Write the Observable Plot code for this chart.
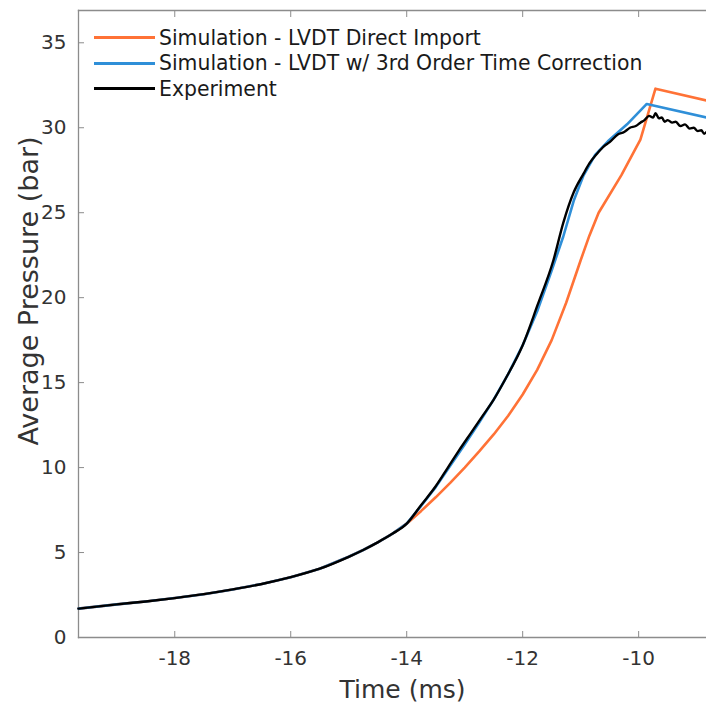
<!DOCTYPE html>
<html><head><meta charset="utf-8">
<script src="https://cdn.jsdelivr.net/npm/d3@7"></script>
<script src="https://cdn.jsdelivr.net/npm/@observablehq/plot@0.6"></script>
<style>
body{margin:0;background:#fff;}
#wrap{position:relative;width:706px;height:709px;overflow:hidden;font-family:"DejaVu Sans",Verdana,sans-serif;}
.legend{position:absolute;left:94px;top:25px;font-size:20.4px;color:#1a1a1a;}
.row{display:flex;align-items:center;height:25.5px;white-space:nowrap;}
.sw{width:61px;height:3px;margin-right:4px;}
</style></head><body><div id="wrap"></div>
<script>
// Series names / colours
const seriesNames = ["Simulation - LVDT Direct Import", "Simulation - LVDT w/ 3rd Order Time Correction", "Experiment"];
const seriesColors = ["#ff7236", "#2f8fd8", "#000000"];

// Shared early portion (time in ms, pressure in bar)
const commonT = [-19.66, -19.0, -18.5, -18.0, -17.5, -17.0, -16.5, -16.0, -15.5, -15.0, -14.75, -14.5, -14.25, -14.0];
const commonP = [1.70, 1.95, 2.12, 2.32, 2.55, 2.83, 3.15, 3.55, 4.05, 4.75, 5.15, 5.6, 6.1, 6.7];

// Simulation - LVDT Direct Import (after -14 ms)
const directT = [-13.75, -13.5, -13.25, -13.0, -12.75, -12.5, -12.25, -12.0, -11.75, -11.5, -11.25, -11.0, -10.85, -10.69, -10.3, -9.97, -9.71, -8.83];
const directP = [7.45, 8.25, 9.1, 10.0, 10.95, 11.95, 13.05, 14.3, 15.75, 17.5, 19.7, 22.2, 23.65, 25.0, 27.2, 29.3, 32.3, 31.6];

// Simulation - 3rd order time correction (after -14 ms)
const corrT = [-13.75, -13.5, -13.25, -13.0, -12.75, -12.5, -12.25, -12.0, -11.75, -11.5, -11.3, -11.12, -10.95, -10.75, -10.53, -10.2, -9.86, -8.83];
const corrP = [7.75, 8.85, 10.1, 11.35, 12.65, 14.0, 15.5, 17.2, 19.2, 21.6, 23.6, 25.7, 27.2, 28.4, 29.2, 30.2, 31.4, 30.6];

// Experiment (after -14 ms)
const expT = [-13.75, -13.5, -13.29, -13.1, -12.9, -12.7, -12.5, -12.3, -12.0, -11.74, -11.47, -11.3, -11.12, -10.95, -10.85, -10.71, -10.6, -10.5, -10.36, -10.25, -10.15, -10.05, -9.97, -9.9, -9.82, -9.75, -9.71, -9.65, -9.6, -9.55, -9.5, -9.42, -9.36, -9.28, -9.2, -9.12, -9.05, -8.98, -8.92, -8.87, -8.83];
const expP = [7.8, 8.9, 10.0, 11.0, 12.0, 13.0, 14.0, 15.2, 17.2, 19.6, 22.2, 24.4, 26.2, 27.3, 27.9, 28.5, 28.9, 29.15, 29.6, 29.75, 30.0, 30.1, 30.3, 30.45, 30.7, 30.6, 30.85, 30.55, 30.6, 30.35, 30.45, 30.3, 30.35, 30.1, 30.2, 29.95, 30.0, 29.8, 29.85, 29.65, 29.75];

const xTicks = [-18, -16, -14, -12, -10];
const yTicks = [0, 5, 10, 15, 20, 25, 30, 35];

function rows(name, ts, ps) {
  const t = commonT.concat(ts), p = commonP.concat(ps);
  return t.map((v, i) => ({series: name, t: v, p: p[i]}));
}
const simData = [
  ...rows(seriesNames[0], directT, directP),
  ...rows(seriesNames[1], corrT, corrP)
];
const expData = rows(seriesNames[2], expT, expP);

const axisGrey = "#8c8c8c";
const chart = Plot.plot({
  width: 706, height: 709,
  marginLeft: 78, marginRight: 0, marginTop: 10, marginBottom: 72,
  style: {fontFamily: "DejaVu Sans, Verdana, sans-serif", fontSize: "20px", color: "#333", background: "#fff", overflow: "visible"},
  x: {domain: [-19.66, -8.83]},
  y: {domain: [0, 36.9]},
  color: {domain: seriesNames, range: seriesColors},
  marks: [
    Plot.frame({anchor: "top", stroke: axisGrey, strokeWidth: 1.3}),
    Plot.frame({anchor: "left", stroke: axisGrey, strokeWidth: 1.3}),
    Plot.frame({anchor: "bottom", stroke: axisGrey, strokeWidth: 1.3}),
    Plot.axisX({ticks: xTicks, tickSize: -6, tickPadding: 19, stroke: axisGrey, label: null, tickFormat: d => String(d)}),
    Plot.axisX({anchor: "top", ticks: xTicks, tickSize: -6, stroke: axisGrey, label: null, tickFormat: () => ""}),
    Plot.axisY({ticks: yTicks, tickSize: -6, tickPadding: 18, stroke: axisGrey, label: null}),
    Plot.text(["Time (ms)"], {frameAnchor: "bottom", dx: 10, dy: 60, fontSize: 25, fill: "#333"}),
    Plot.text(["Average Pressure (bar)"], {frameAnchor: "left", textAnchor: "middle", dx: -49, dy: -33, rotate: -90, fontSize: 27, fill: "#333"}),
    Plot.line(simData, {x: "t", y: "p", z: "series", stroke: "series", strokeWidth: 2.6, curve: "linear"}),
    Plot.line(expData, {x: "t", y: "p", z: "series", stroke: "series", strokeWidth: 2.4, curve: "monotone-x"})
  ]
});
const wrap = document.getElementById("wrap");
wrap.appendChild(chart);

const legend = document.createElement("div");
legend.className = "legend";
seriesNames.forEach((n, i) => {
  const r = document.createElement("div"); r.className = "row";
  const s = document.createElement("div"); s.className = "sw"; s.style.background = seriesColors[i];
  const t = document.createElement("span"); t.textContent = n;
  r.appendChild(s); r.appendChild(t); legend.appendChild(r);
});
wrap.appendChild(legend);
</script></body></html>
